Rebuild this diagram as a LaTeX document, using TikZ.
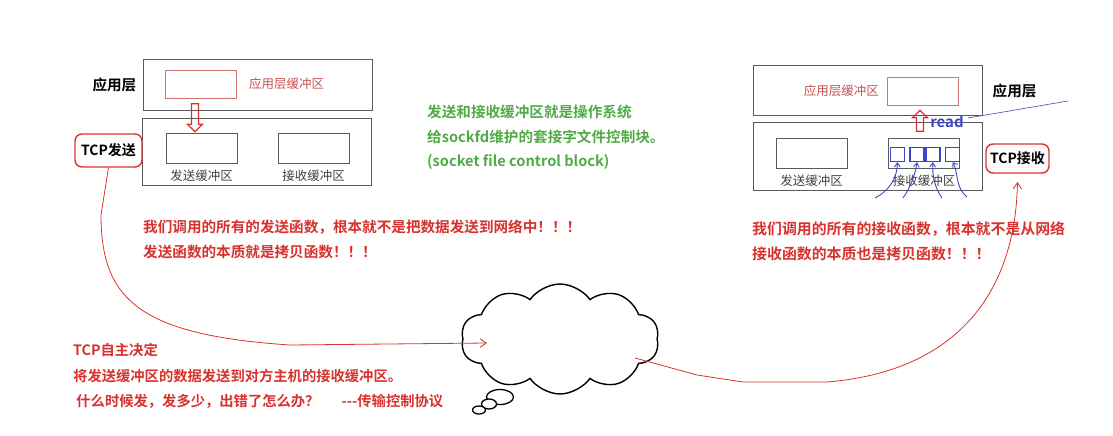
\documentclass[tikz,border=0pt]{standalone}
\usepackage{fontspec}
\setmainfont{Noto Sans CJK SC}[BoldFont={Noto Sans CJK SC Bold}]
\usepackage{xcolor}
\usetikzlibrary{arrows.meta, positioning, shapes.symbols, shapes.arrows, shapes.geometric}
\definecolor{noteRed}{HTML}{D7322D}
\definecolor{bufRed}{HTML}{C85050}
\definecolor{osGreen}{HTML}{50AA46}
\definecolor{slotBlue}{HTML}{3C46C8}
\definecolor{frame}{HTML}{5A5A5A}

\begin{document}
\begin{tikzpicture}[
    x=1pt, y=-1pt,
    every node/.style={inner sep=0pt},
    layer/.style={draw=frame, line width=1pt, minimum width=229pt, minimum height=50pt},
    core/.style={draw=frame, line width=1pt, minimum width=229pt, minimum height=67pt},
    buf/.style={draw=frame, line width=0.9pt, minimum width=71pt, minimum height=30pt},
    appbuf/.style={draw=bufRed!80, line width=0.9pt, minimum width=71pt, minimum height=28pt},
    lbl/.style={font=\fontsize{12.5}{14}\selectfont, text=black!75},
    head/.style={font=\fontsize{14.6}{16}\selectfont\bfseries},
    tcp/.style={draw=noteRed, line width=1.4pt, rounded corners=7pt,
      font=\fontsize{14}{16}\selectfont\bfseries, inner xsep=3pt},
    note/.style={font=\fontsize{14.6}{25}\selectfont\bfseries, text=noteRed, align=left, anchor=west},
    fat/.style={single arrow, draw=noteRed, line width=1.3pt, single arrow head extend=3pt,
      minimum width=15pt, inner sep=2pt},
    slot/.style={draw=slotBlue, line width=1.4pt, minimum size=14pt},
    link/.style={draw=noteRed, line width=0.8pt, -{Straight Barb[length=2.2mm, width=3mm]}},
    feed/.style={draw=slotBlue, line width=0.9pt, -{Straight Barb[length=1.4mm, width=2mm]}}
  ]
  \useasboundingbox (0,0) rectangle (1113,436);

  \node[layer] (appL) at (257.5,85) {};
  \node[appbuf] (appBufL) at (201,84) {};
  \node[lbl, text=bufRed, right=12pt of appBufL] {应用层缓冲区};
  \node[head, left=6pt of appL] {应用层};
  \node[core] (tcpL) at (257,151.5) {};
  \node[buf] (sendL) at (201.5,148) {};
  \node[buf] (recvL) at (313.5,148) {};
  \node[lbl] at (sendL.south |- 0,176) {发送缓冲区};
  \node[lbl] at (recvL.south |- 0,176) {接收缓冲区};
  \node[fat, rotate=-90, minimum height=28pt] (downL) at (195,116) {};
  \node[tcp, minimum width=67pt, minimum height=33pt] (tcpSend) at (108.5,150.5) {TCP发送};

  \node[layer, minimum width=229pt, minimum height=49pt] (appR) at (867.5,90.5) {};
  \node[appbuf] (appBufR) at (923,91) {};
  \node[lbl, text=bufRed, left=8pt of appBufR] {应用层缓冲区};
  \node[head, right=10pt of appR] {应用层};
  \node[core, minimum height=68pt] (tcpR) at (867.5,156) {};
  \node[buf] (sendR) at (811.5,153) {};
  \node[buf] (recvR) at (924,153) {};
  \node[lbl] at (sendR.south |- 0,181) {发送缓冲区};
  \node[lbl] (recvLblR) at (recvR.south |- 0,181) {接收缓冲区};
  \node[slot] (s1) at (897.5,154.5) {};
  \node[slot] (s2) at (917,154.5) {};
  \node[slot] (s3) at (933,154.5) {};
  \node[slot] (s4) at (952.5,154.5) {};
  \node[fat, rotate=90, minimum height=21pt] (upR) at (920,122.5) {};
  \node[font=\fontsize{15}{16}\selectfont\bfseries, text=slotBlue] (read) at (947,122) {read};
  \node[tcp, minimum width=63pt, minimum height=29pt] (tcpRecv) at (1017.5,158.5) {TCP接收};

  \coordinate (f1) at (875,198);
  \coordinate (f2) at (903,198);
  \coordinate (f3) at (942,198);
  \coordinate (f4) at (967,197);
  \draw[feed] (f1) .. controls (890,190) and (897,178) .. (s1.south);
  \draw[feed] (f2) .. controls (910,188) and (915,176) .. (s2.south);
  \draw[feed] (f3) .. controls (935,188) and (932,176) .. (s3.south);
  \draw[feed] (f4) .. controls (955,188) and (958,170) .. (s4.south);

  \coordinate (sky) at (1068,101);
  \draw[slotBlue!60!gray, line width=0.7pt] (read.east) ++(4,-4) -- (sky);

  \node[font=\fontsize{14.6}{24.5}\selectfont\bfseries, text=osGreen, align=left, anchor=west] (os)
    at (427,137.5) {发送和接收缓冲区就是操作系统\\给sockfd维护的套接字文件控制块。\\(socket file control block)};

  \node[note] (sendNote) at (143,239.5) {我们调用的所有的发送函数，根本就不是把数据发送到网络中！！！\\发送函数的本质就是拷贝函数！！！};
  \begin{scope}
    \clip (0,0) rectangle (1066,436);
    \node[note, font=\fontsize{14.9}{25}\selectfont\bfseries] (recvNote) at (752,241.5) {我们调用的所有的接收函数，根本就不是从网络\\接收函数的本质也是拷贝函数！！！};
  \end{scope}
  \node[note, font=\fontsize{14.3}{25.5}\selectfont\bfseries] (tcpNote) at (73,376)
    {TCP自主决定\\将发送缓冲区的数据发送到对方主机的接收缓冲区。\\\ 什么时候发，发多少，出错了怎么办？\hspace{22pt}-{}-{}-传输控制协议};

  \node[cloud, draw, line width=1.4pt, cloud puffs=10, cloud puff arc=110, aspect=1.8,
    minimum width=198pt, minimum height=110pt] (net) at (560,339) {};
  \node[ellipse, draw, line width=1.3pt, fill=white, minimum width=27pt, minimum height=15pt] (b1) at (500,397) {};
  \node[ellipse, draw, line width=1.3pt, fill=white, minimum width=15pt, minimum height=10pt] (b2) at (489,404) {};
  \node[ellipse, draw, line width=1.3pt, fill=white, minimum width=13pt, minimum height=8pt] (b3) at (479,410) {};

  \coordinate (inL) at (487,343);
  \coordinate (outR) at (635,358);
  \draw[link] (tcpSend.south) -- (101,215) .. controls (101,300) and (140,335) .. (290,345) -- (inL);
  \draw[link] (outR) -- (697,375) -- (743,382) -- (827,382)
    .. controls (950,372) and (1015,300) .. (tcpRecv.south |- 0,182);
\end{tikzpicture}
\end{document}
